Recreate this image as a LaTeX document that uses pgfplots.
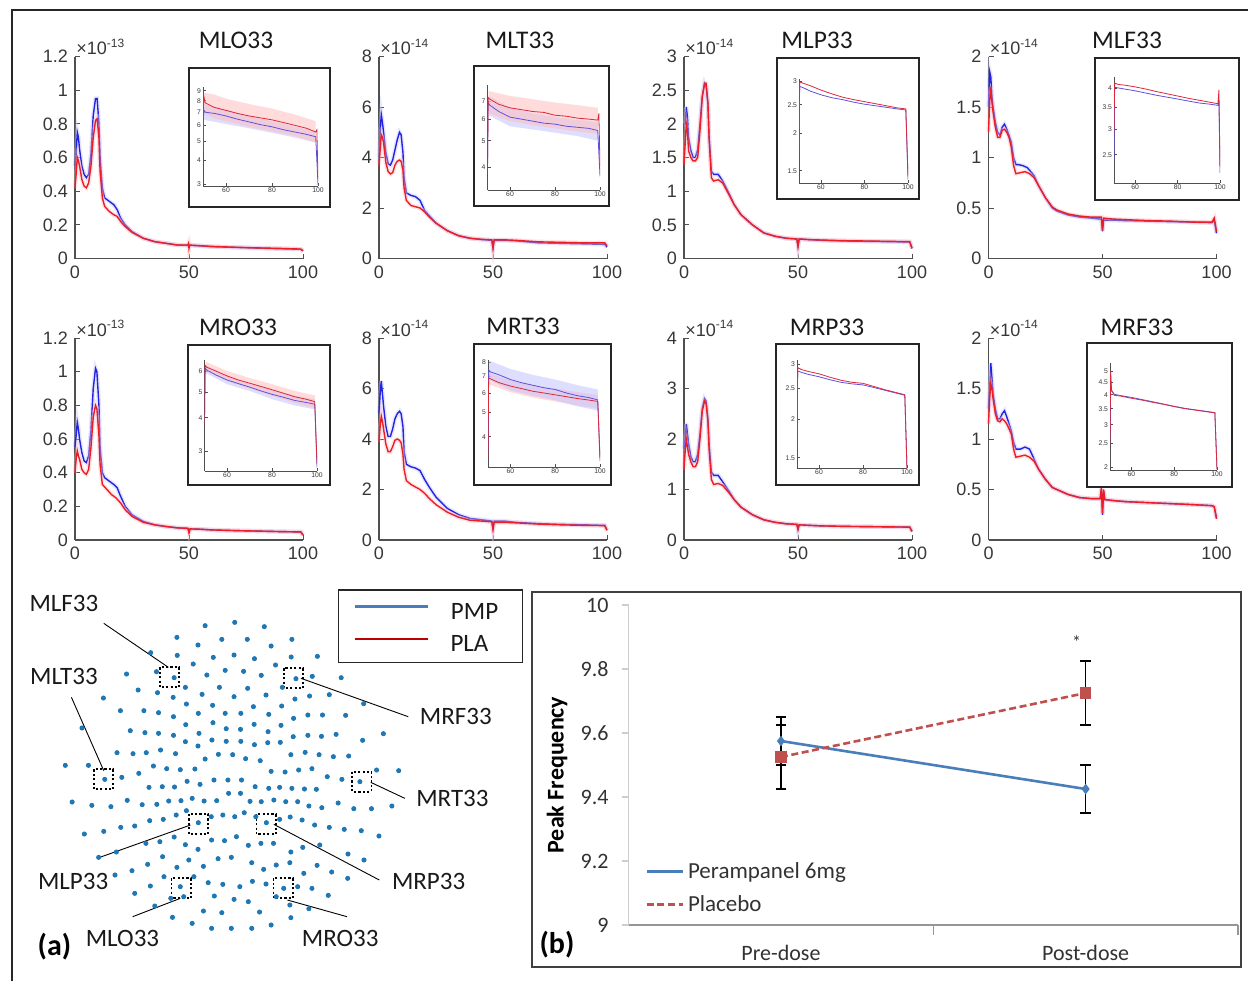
\documentclass[border=0pt]{standalone}
\usepackage{fontspec}
\setmainfont{Carlito}
\newfontfamily\mfont{Liberation Sans}
\usepackage{pgfplots}
\pgfplotsset{compat=1.18}

\definecolor{pmpb}{RGB}{35,35,225}
\definecolor{plar}{RGB}{235,30,40}
\definecolor{bandb}{RGB}{195,195,255}
\definecolor{bandr}{RGB}{255,190,190}
\definecolor{insb}{RGB}{95,80,220}
\definecolor{insr}{RGB}{220,40,60}
\definecolor{axg}{RGB}{80,80,80}
\definecolor{tkg}{RGB}{55,55,55}
\definecolor{sens}{RGB}{31,119,180}
\definecolor{xlb}{RGB}{74,126,187}
\definecolor{xlr}{RGB}{192,80,77}
\definecolor{legr}{RGB}{192,0,0}
\definecolor{xgr}{RGB}{150,150,150}
\definecolor{ygr}{RGB}{205,205,205}
\definecolor{tkb}{RGB}{50,50,50}

\pgfplotsset{
  spec/.style={anchor=south west, scale only axis, width=114pt, height=101pt,
    xmin=0, xmax=100, ymin=0, axis lines*=left, xtick={0,50,100},
    tick align=inside, major tick length=2.5pt,
    axis line style={draw=axg, line width=0.55pt}, tick style={draw=axg, line width=0.5pt},
    ticklabel style={font=\mfont\fontsize{9}{10}\selectfont, text=tkg},
    /pgf/number format/assume math mode=true, clip=false},
  ins/.style={anchor=south west, scale only axis, xmin=50, xmax=100,
    axis lines*=left, xtick={60,80,100}, log ticks with fixed point, yminorticks=false,
    tick align=inside, major tick length=1.5pt,
    axis line style={draw=axg, line width=0.35pt}, tick style={draw=axg, line width=0.3pt},
    ticklabel style={font=\mfont\fontsize{3.4}{4}\selectfont, text=tkg, inner sep=0.8pt},
    /pgf/number format/assume math mode=true},
  cb/.style={draw=pmpb, line width=0.7pt, preaction={draw=bandb, line width=2.2pt, opacity=0.4}},
  cr/.style={draw=plar, line width=0.7pt, preaction={draw=bandr, line width=2.2pt, opacity=0.4}},
  ib/.style={draw=insb, line width=0.4pt},
  ir/.style={draw=insr, line width=0.4pt},
  fb/.style={fill=bandb, draw=none, fill opacity=0.55},
  fr/.style={fill=bandr, draw=none, fill opacity=0.55},
}
\tikzset{
  ttl/.style={font=\fontsize{12.7}{15}\selectfont, text=black!90},
  mult/.style={anchor=south west, inner sep=0.5pt, font=\mfont\fontsize{9}{10}\selectfont, text=tkg},
  imult/.style={anchor=south west, inner sep=0.4pt, font=\mfont\fontsize{3.4}{4}\selectfont, text=tkg},
  frm/.style={draw=black!85, line width=0.75pt, fill=white},
  lab/.style={font=\fontsize{12.5}{15}\selectfont, text=black!90},
  sbox/.style={draw=black, line width=0.9pt, dash pattern=on 1.1pt off 1.1pt},
}

\begin{document}
\begin{tikzpicture}

% ---------- border lines (top and left) and frame of (b)
\draw[draw=black!85, line width=0.6pt] (6pt,-490.5pt) -- (6pt,-5pt) -- (624pt,-5pt);
\draw[draw=black!75, line width=0.6pt] (266pt,-296pt) rectangle (620.5pt,-483.5pt);

% ================= row 1 =================
% MLO33
\begin{axis}[spec, at={(37.5pt,-129.25pt)}, ymax=1.2, ytick={0,0.2,0.4,0.6,0.8,1,1.2}]
\addplot[cb] coordinates {(0,0.55)(0.5,0.62)(1,0.75)(1.5,0.72)(2,0.65)(3,0.55)(4,0.5)(5,0.48)(6,0.5)(7,0.62)(8,0.85)(9,0.95)(9.7,0.95)(10.5,0.8)(11,0.6)(12,0.42)(13,0.36)(15,0.34)(17,0.32)(18.5,0.29)(20,0.24)(22,0.2)(25,0.16)(30,0.12)(35,0.1)(40,0.09)(45,0.08)(49.5,0.078)(50,0.072)(50.5,0.078)(55,0.075)(60,0.07)(70,0.066)(80,0.062)(90,0.058)(99,0.055)(100,0.045)};
\addplot[cr] coordinates {(0,0.42)(0.5,0.5)(1,0.6)(1.5,0.58)(2,0.55)(3,0.47)(4,0.43)(5,0.42)(6,0.45)(7,0.55)(8,0.72)(9,0.82)(9.7,0.83)(10.5,0.72)(11,0.52)(12,0.36)(13,0.31)(15,0.28)(17,0.26)(18.5,0.25)(20,0.22)(22,0.19)(25,0.155)(30,0.12)(35,0.1)(40,0.09)(45,0.08)(49.5,0.08)(49.8,0.09)(50,0.06)(50.3,0.08)(55,0.076)(60,0.072)(70,0.067)(80,0.063)(90,0.06)(99,0.056)(100,0.046)};
\node[mult] at (rel axis cs:0,1) {×10\textsuperscript{-13}};
\end{axis}
\draw[frm] (94.5pt,-34pt) rectangle (165pt,-103.5pt);
\begin{axis}[ins, ymode=log, at={(101.5pt,-93pt)}, width=57.5pt, height=49.5pt, ymin=2.95, ymax=9.4, ytick={3,4,5,6,7,8,9}]
\addplot[fb] coordinates {(50.5,7.7)(60,7.2)(70,6.7)(80,6.3)(90,5.9)(99,5.6)(99,4.9)(90,5.2)(80,5.5)(70,5.8)(60,6.1)(50.5,6.4)};
\addplot[fr] coordinates {(50.5,8.8)(55,8.6)(60,8.2)(70,7.7)(80,7.3)(90,6.8)(99,6.3)(99,4.9)(90,5.3)(80,5.6)(70,5.9)(60,6.3)(55,6.5)(50.5,6.9)};
\addplot[ib] coordinates {(50,4.4)(50.3,7.2)(51,7.0)(55,6.9)(60,6.7)(65,6.45)(70,6.25)(75,6.05)(80,5.9)(85,5.7)(90,5.55)(95,5.4)(99,5.25)(100,3.0)};
\addplot[ir] coordinates {(50,4.3)(50.3,8.5)(51,7.8)(55,7.4)(60,7.15)(65,6.9)(70,6.7)(75,6.55)(80,6.4)(85,6.2)(90,6.0)(95,5.8)(99,5.55)(99.5,5.7)(100,3.2)};
\node[imult] at (rel axis cs:0,1) {×10\textsuperscript{-15}};
\end{axis}
\node[ttl] at (118pt,-20pt) {MLO33};

% MLT33
\begin{axis}[spec, at={(189.5pt,-129.25pt)}, ymax=8, ytick={0,2,4,6,8}]
\addplot[cb] coordinates {(0,4.0)(0.5,5.0)(1,5.7)(1.5,5.4)(2,5.0)(3,4.2)(4,3.75)(5,3.7)(6,3.9)(7,4.3)(8,4.7)(9,5.0)(9.7,4.9)(10.5,4.2)(11,3.2)(12,2.6)(14,2.5)(16,2.45)(18,2.3)(19,2.1)(20,1.9)(22,1.7)(25,1.4)(30,1.1)(35,0.9)(40,0.8)(45,0.75)(49.5,0.72)(50,0.4)(50.5,0.72)(55,0.72)(60,0.7)(70,0.62)(80,0.6)(90,0.58)(99,0.56)(100,0.45)};
\addplot[cr] coordinates {(0,3.7)(0.5,4.3)(1,4.9)(1.5,4.8)(2,4.6)(3,3.8)(4,3.45)(5,3.35)(6,3.4)(7,3.7)(8,3.85)(9,3.9)(9.7,3.85)(10.5,3.5)(11,2.8)(12,2.3)(14,2.1)(16,2.05)(18,2.0)(20,1.85)(22,1.65)(25,1.4)(30,1.1)(35,0.9)(40,0.8)(45,0.76)(49.5,0.74)(50,0.42)(50.5,0.74)(55,0.74)(60,0.72)(70,0.66)(80,0.64)(90,0.62)(99,0.62)(100,0.5)};
\node[mult] at (rel axis cs:0,1) {×10\textsuperscript{-14}};
\end{axis}
\draw[frm] (237pt,-33pt) rectangle (304.5pt,-103pt);
\begin{axis}[ins, ymode=log, at={(243.75pt,-95pt)}, width=56.25pt, height=52.5pt, ymin=3.3, ymax=8.0, ytick={4,5,6,7}]
\addplot[fb] coordinates {(50.5,7.3)(60,6.6)(70,6.3)(80,6.1)(90,5.95)(99,5.85)(99,5.0)(90,5.2)(80,5.35)(70,5.5)(60,5.65)(50.5,6.2)};
\addplot[fr] coordinates {(50.5,7.6)(60,7.3)(70,7.1)(80,6.9)(90,6.75)(99,6.6)(99,5.3)(90,5.4)(80,5.55)(70,5.7)(60,5.9)(50.5,6.3)};
\addplot[ib] coordinates {(50,3.8)(50.3,6.9)(51,6.75)(55,6.4)(60,6.1)(65,6.0)(70,5.9)(75,5.8)(80,5.75)(85,5.65)(90,5.6)(95,5.55)(99,5.45)(100,3.7)};
\addplot[ir] coordinates {(50,4.0)(50.3,7.2)(51,7.1)(55,6.8)(60,6.6)(65,6.5)(70,6.4)(75,6.35)(80,6.2)(85,6.15)(90,6.05)(95,6.0)(99,5.95)(99.5,6.3)(100,4.0)};
\node[imult] at (rel axis cs:0,1) {×10\textsuperscript{-15}};
\end{axis}
\node[ttl] at (260pt,-20pt) {MLT33};

% MLP33
\begin{axis}[spec, at={(342pt,-129.25pt)}, ymax=3, ytick={0,0.5,1,1.5,2,2.5,3}]
\addplot[cb] coordinates {(0,2.0)(0.5,2.0)(1,2.25)(1.5,2.1)(2,1.8)(3,1.6)(4,1.5)(5,1.5)(6,1.62)(7,2.0)(8,2.4)(9,2.6)(9.7,2.55)(10.5,2.3)(11,1.8)(12,1.3)(13,1.25)(15,1.25)(17,1.15)(20,0.95)(22,0.8)(25,0.65)(30,0.5)(35,0.38)(40,0.33)(45,0.3)(49.5,0.29)(50,0.18)(50.5,0.29)(55,0.28)(60,0.27)(70,0.26)(80,0.255)(90,0.25)(99,0.245)(100,0.15)};
\addplot[cr] coordinates {(0,1.4)(0.5,1.7)(1,2.0)(1.5,1.9)(2,1.6)(3,1.5)(4,1.45)(5,1.45)(6,1.5)(7,1.9)(8,2.4)(9,2.6)(9.7,2.6)(10.5,2.3)(11,1.8)(12,1.2)(13,1.15)(15,1.17)(17,1.12)(20,0.93)(22,0.8)(25,0.65)(30,0.5)(35,0.38)(40,0.33)(45,0.3)(49.5,0.29)(50,0.18)(50.5,0.29)(55,0.28)(60,0.275)(70,0.265)(80,0.26)(90,0.255)(99,0.25)(100,0.15)};
\node[mult] at (rel axis cs:0,1) {×10\textsuperscript{-14}};
\end{axis}
\draw[frm] (388.5pt,-29pt) rectangle (459.5pt,-99.5pt);
\begin{axis}[ins, ymode=log, at={(399.5pt,-91.5pt)}, width=54.5pt, height=52pt, ymin=1.364, ymax=3.05, ytick={1.5,2,2.5,3}]
\addplot[ib] coordinates {(50,1.75)(50.3,2.88)(52,2.85)(55,2.78)(60,2.7)(65,2.64)(70,2.6)(75,2.55)(80,2.51)(85,2.48)(90,2.45)(95,2.42)(99,2.4)(100,1.4)};
\addplot[ir] coordinates {(50,1.5)(50.3,2.98)(52,2.95)(55,2.9)(60,2.8)(65,2.72)(70,2.65)(75,2.6)(80,2.56)(85,2.52)(90,2.48)(95,2.44)(99,2.42)(100,1.45)};
\node[imult] at (rel axis cs:0,1) {×10\textsuperscript{-15}};
\end{axis}
\node[ttl] at (408.5pt,-20pt) {MLP33};

% MLF33
\begin{axis}[spec, at={(494.25pt,-129.25pt)}, ymax=2, ytick={0,0.5,1,1.5,2}]
\addplot[cb] coordinates {(0,1.5)(0.5,1.85)(1,1.8)(1.5,1.6)(2,1.5)(3,1.35)(4,1.25)(5,1.22)(6,1.3)(7,1.33)(8,1.28)(9,1.22)(10,1.15)(11,1.0)(12,0.93)(13,0.93)(15,0.92)(17,0.9)(20,0.82)(22,0.72)(25,0.6)(28,0.5)(30,0.47)(35,0.43)(40,0.41)(45,0.4)(49.5,0.39)(50,0.27)(50.5,0.38)(55,0.38)(60,0.375)(70,0.37)(80,0.365)(90,0.36)(98,0.355)(99,0.38)(100,0.25)};
\addplot[cr] coordinates {(0,1.25)(0.5,1.55)(1,1.7)(1.5,1.55)(2,1.45)(3,1.3)(4,1.2)(5,1.2)(6,1.27)(7,1.28)(8,1.25)(9,1.2)(10,1.1)(11,0.92)(12,0.84)(14,0.85)(16,0.86)(18,0.84)(20,0.8)(22,0.72)(25,0.6)(28,0.51)(30,0.48)(35,0.44)(40,0.42)(45,0.41)(49.5,0.41)(50,0.28)(50.5,0.4)(55,0.39)(60,0.385)(70,0.375)(80,0.37)(90,0.36)(98,0.36)(99,0.4)(100,0.27)};
\node[mult] at (rel axis cs:0,1) {×10\textsuperscript{-14}};
\end{axis}
\draw[frm] (547.5pt,-29pt) rectangle (619.5pt,-100pt);
\begin{axis}[ins, ymode=log, at={(557pt,-91.5pt)}, width=53pt, height=53pt, ymin=2.05, ymax=4.32, ytick={2.5,3,3.5,4}]
\addplot[ib] coordinates {(50,2.4)(50.3,4.02)(52,4.0)(55,3.97)(60,3.92)(65,3.86)(70,3.8)(75,3.75)(80,3.7)(85,3.65)(90,3.6)(95,3.57)(99,3.54)(99.5,3.6)(100,2.2)};
\addplot[ir] coordinates {(50,2.9)(50.3,4.14)(52,4.1)(55,4.08)(60,4.03)(65,3.97)(70,3.9)(75,3.84)(80,3.78)(85,3.72)(90,3.67)(95,3.62)(99,3.58)(99.5,3.95)(100,2.3)};
\node[imult] at (rel axis cs:0,1) {×10\textsuperscript{-15}};
\end{axis}
\node[ttl] at (563.5pt,-20pt) {MLF33};

% ================= row 2 =================
% MRO33
\begin{axis}[spec, at={(37.5pt,-270pt)}, ymax=1.2, ytick={0,0.2,0.4,0.6,0.8,1,1.2}]
\addplot[cb] coordinates {(0,0.55)(0.5,0.62)(1,0.7)(1.5,0.66)(2,0.6)(3,0.52)(4,0.47)(5,0.46)(6,0.5)(7,0.65)(8,0.9)(9,1.02)(9.6,1.0)(10.5,0.8)(11,0.55)(12,0.4)(13,0.37)(15,0.35)(17,0.33)(18.5,0.31)(20,0.26)(22,0.2)(25,0.15)(30,0.11)(35,0.09)(40,0.08)(45,0.072)(49.5,0.068)(50,0.06)(50.5,0.066)(55,0.064)(60,0.06)(70,0.056)(80,0.053)(90,0.05)(99,0.048)(100,0.03)};
\addplot[cr] coordinates {(0,0.4)(0.5,0.48)(1,0.53)(1.5,0.5)(2,0.48)(3,0.42)(4,0.4)(5,0.39)(6,0.42)(7,0.55)(8,0.73)(9,0.8)(9.6,0.78)(10.5,0.62)(11,0.45)(12,0.33)(14,0.3)(16,0.27)(18,0.25)(20,0.22)(22,0.18)(25,0.14)(30,0.105)(35,0.09)(40,0.08)(45,0.072)(49.5,0.07)(50,0.04)(50.5,0.066)(55,0.064)(60,0.06)(70,0.056)(80,0.053)(90,0.05)(99,0.048)(100,0.03)};
\node[mult] at (rel axis cs:0,1) {×10\textsuperscript{-13}};
\end{axis}
\draw[frm] (94pt,-172.5pt) rectangle (165pt,-242.5pt);
\begin{axis}[ins, ymode=log, at={(102.25pt,-235.5pt)}, width=56.25pt, height=55.5pt, ymin=2.52, ymax=6.6, ytick={3,4,5,6}]
\addplot[fb] coordinates {(50.5,6.3)(60,5.75)(70,5.4)(80,5.1)(90,4.85)(99,4.7)(99,4.3)(90,4.45)(80,4.7)(70,5.05)(60,5.35)(50.5,5.9)};
\addplot[fr] coordinates {(50.5,6.5)(60,6.0)(70,5.65)(80,5.35)(90,5.05)(99,4.85)(99,4.35)(90,4.55)(80,4.85)(70,5.15)(60,5.5)(50.5,6.0)};
\addplot[ib] coordinates {(50,3.9)(50.3,6.15)(51,6.05)(55,5.8)(60,5.55)(65,5.38)(70,5.22)(75,5.05)(80,4.9)(85,4.78)(90,4.65)(95,4.57)(99,4.5)(100,2.6)};
\addplot[ir] coordinates {(50,3.8)(50.3,6.3)(51,6.2)(55,6.0)(60,5.75)(65,5.55)(70,5.4)(75,5.25)(80,5.1)(85,4.95)(90,4.8)(95,4.7)(99,4.6)(100,2.7)};
\node[imult] at (rel axis cs:0,1) {×10\textsuperscript{-15}};
\end{axis}
\node[ttl] at (119pt,-163.5pt) {MRO33};

% MRT33
\begin{axis}[spec, at={(189.5pt,-270pt)}, ymax=8, ytick={0,2,4,6,8}]
\addplot[cb] coordinates {(0,5.0)(0.5,5.8)(1,6.3)(1.5,5.8)(2,5.3)(3,4.5)(4,4.1)(5,4.1)(6,4.4)(7,4.8)(8,5.0)(9,5.1)(9.7,5.0)(10.5,4.5)(11,3.5)(12,3.0)(14,2.9)(16,2.85)(18,2.75)(20,2.4)(22,2.1)(25,1.7)(30,1.25)(35,1.0)(40,0.85)(45,0.8)(49.5,0.75)(50,0.45)(50.5,0.75)(55,0.75)(60,0.7)(70,0.65)(80,0.62)(90,0.6)(99,0.58)(100,0.4)};
\addplot[cr] coordinates {(0,3.9)(0.5,4.5)(1,4.9)(1.5,4.7)(2,4.4)(3,3.8)(4,3.5)(5,3.5)(6,3.7)(7,3.95)(8,4.0)(9,3.95)(9.7,3.85)(10.5,3.4)(11,2.8)(12,2.35)(14,2.2)(16,2.1)(18,2.0)(20,1.85)(22,1.65)(25,1.4)(30,1.1)(35,0.9)(40,0.78)(45,0.75)(49.5,0.72)(50,0.42)(50.5,0.7)(55,0.7)(60,0.68)(70,0.63)(80,0.6)(90,0.58)(99,0.57)(100,0.38)};
\node[mult] at (rel axis cs:0,1) {×10\textsuperscript{-14}};
\end{axis}
\draw[frm] (237pt,-172pt) rectangle (305.5pt,-242.5pt);
\begin{axis}[ins, ymode=log, at={(244pt,-233.5pt)}, width=56pt, height=53.5pt, ymin=3.02, ymax=8.15, ytick={4,5,6,7,8}]
\addplot[fr] coordinates {(50.5,7.2)(60,6.75)(70,6.45)(80,6.25)(90,6.05)(99,5.9)(99,5.2)(90,5.35)(80,5.55)(70,5.75)(60,6.05)(50.5,6.5)};
\addplot[fb] coordinates {(50.5,8.1)(60,7.5)(70,7.1)(80,6.8)(90,6.45)(99,6.2)(99,5.1)(90,5.3)(80,5.6)(70,5.85)(60,6.15)(50.5,6.8)};
\addplot[ib] coordinates {(50,3.5)(50.3,7.45)(51,7.3)(55,7.1)(60,6.8)(65,6.6)(70,6.45)(75,6.3)(80,6.2)(85,6.0)(90,5.85)(95,5.75)(99,5.63)(100,3.3)};
\addplot[ir] coordinates {(50,3.3)(50.3,6.9)(51,6.85)(55,6.6)(60,6.4)(65,6.25)(70,6.1)(75,6.0)(80,5.9)(85,5.8)(90,5.7)(95,5.62)(99,5.55)(100,3.2)};
\node[imult] at (rel axis cs:0,1) {×10\textsuperscript{-15}};
\end{axis}
\node[ttl] at (261.5pt,-163pt) {MRT33};

% MRP33
\begin{axis}[spec, at={(342pt,-270pt)}, ymax=4, ytick={0,1,2,3,4}]
\addplot[cb] coordinates {(0,1.8)(0.5,2.0)(1,2.3)(1.5,2.1)(2,1.9)(3,1.65)(4,1.55)(5,1.55)(6,1.7)(7,2.1)(8,2.6)(9,2.8)(9.7,2.75)(10.5,2.4)(11,1.9)(12,1.35)(13,1.28)(15,1.28)(17,1.15)(20,0.95)(22,0.8)(25,0.65)(30,0.5)(35,0.4)(40,0.35)(45,0.32)(49.5,0.31)(50,0.2)(50.5,0.3)(55,0.29)(60,0.28)(70,0.27)(80,0.265)(90,0.26)(99,0.255)(100,0.17)};
\addplot[cr] coordinates {(0,1.4)(0.5,1.75)(1,2.0)(1.5,1.85)(2,1.7)(3,1.55)(4,1.45)(5,1.45)(6,1.55)(7,2.0)(8,2.55)(9,2.75)(9.7,2.7)(10.5,2.35)(11,1.8)(12,1.2)(13,1.1)(15,1.12)(17,1.08)(20,0.92)(22,0.8)(25,0.65)(30,0.5)(35,0.4)(40,0.35)(45,0.32)(49.5,0.31)(50,0.22)(50.5,0.3)(55,0.29)(60,0.28)(70,0.27)(80,0.265)(90,0.26)(99,0.255)(100,0.17)};
\node[mult] at (rel axis cs:0,1) {×10\textsuperscript{-14}};
\end{axis}
\draw[frm] (388pt,-172pt) rectangle (459.5pt,-242.5pt);
\begin{axis}[ins, ymode=log, at={(398.5pt,-234pt)}, width=55pt, height=54pt, ymin=1.39, ymax=3.09, ytick={1.5,2,2.5,3}]
\addplot[ib] coordinates {(50,1.7)(50.3,2.85)(52,2.82)(55,2.78)(60,2.73)(65,2.67)(70,2.62)(75,2.59)(80,2.57)(85,2.52)(90,2.47)(95,2.42)(99,2.38)(100,1.38)};
\addplot[ir] coordinates {(50,1.5)(50.3,2.92)(52,2.88)(55,2.84)(60,2.79)(65,2.72)(70,2.66)(75,2.62)(80,2.6)(85,2.54)(90,2.48)(95,2.43)(99,2.39)(100,1.38)};
\node[imult] at (rel axis cs:0,1) {×10\textsuperscript{-15}};
\end{axis}
\node[ttl] at (413.5pt,-163.5pt) {MRP33};

% MRF33
\begin{axis}[spec, at={(494.25pt,-270pt)}, ymax=2, ytick={0,0.5,1,1.5,2}]
\addplot[cb] coordinates {(0,1.3)(0.5,1.5)(1,1.75)(1.5,1.6)(2,1.45)(3,1.3)(4,1.2)(5,1.2)(6,1.25)(7,1.28)(8,1.22)(9,1.15)(10,1.08)(11,0.97)(12,0.9)(14,0.9)(16,0.92)(18,0.9)(20,0.8)(22,0.7)(25,0.6)(28,0.52)(30,0.5)(35,0.45)(40,0.42)(45,0.41)(49,0.41)(49.5,0.5)(50,0.25)(50.5,0.48)(51,0.4)(55,0.39)(60,0.38)(70,0.37)(80,0.36)(90,0.35)(98,0.34)(99,0.33)(100,0.22)};
\addplot[cr] coordinates {(0,1.15)(0.5,1.4)(1,1.55)(1.5,1.5)(2,1.4)(3,1.25)(4,1.18)(5,1.17)(6,1.2)(7,1.18)(8,1.15)(9,1.1)(10,1.05)(11,0.9)(12,0.82)(14,0.83)(16,0.84)(18,0.82)(20,0.78)(22,0.7)(25,0.6)(28,0.52)(30,0.5)(35,0.45)(40,0.42)(45,0.41)(49,0.41)(49.5,0.52)(50,0.26)(50.5,0.5)(51,0.4)(55,0.39)(60,0.38)(70,0.37)(80,0.36)(90,0.35)(98,0.34)(99,0.33)(100,0.21)};
\node[mult] at (rel axis cs:0,1) {×10\textsuperscript{-14}};
\end{axis}
\draw[frm] (543.5pt,-171.5pt) rectangle (616pt,-243.5pt);
\begin{axis}[ins, ymode=log, at={(555pt,-235pt)}, width=53.5pt, height=53.5pt, ymin=1.94, ymax=5.43, ytick={2,2.5,3,3.5,4,4.5,5}]
\addplot[ib] coordinates {(50,2.6)(50.3,4.7)(50.7,4.15)(52,4.02)(55,3.97)(60,3.9)(65,3.82)(70,3.74)(75,3.66)(80,3.58)(85,3.51)(90,3.46)(95,3.41)(99,3.37)(100,1.95)};
\addplot[ir] coordinates {(50,2.5)(50.3,5.0)(50.7,4.2)(52,3.98)(55,3.95)(60,3.87)(65,3.8)(70,3.72)(75,3.65)(80,3.57)(85,3.5)(90,3.45)(95,3.4)(99,3.36)(100,1.95)};
\node[imult] at (rel axis cs:0,1) {×10\textsuperscript{-15}};
\end{axis}
\node[ttl] at (568.5pt,-163.5pt) {MRF33};

% ================= (a) sensor layout =================
\begin{axis}[at={(0pt,-490pt)}, anchor=south west, scale only axis, width=265pt, height=200pt,
  xmin=0, xmax=1558, ymin=0, ymax=1200, y dir=reverse, hide axis, clip=false]
\addplot[only marks, mark=*, mark size=1.05pt, color=sens] coordinates {
(603,137)(690,127)(777,140)
(520,172)(652,178)(727,178)(858,178)(582,195)(797,198)
(443,218)(521,226)(627,232)(688,225)(748,236)(856,231)(933,229)(568,252)(810,255)
(372,282)(460,275)(512,293)(608,285)(662,271)(716,274)(768,286)(870,296)(918,289)(1003,293)
(406,330)(463,338)(509,352)(545,322)(594,343)(645,322)(688,350)(728,325)(782,345)(830,322)(867,357)(910,348)(968,344)
(304,354)(354,392)(423,392)(466,398)(510,410)(548,372)(583,400)(625,376)(662,400)(708,400)(745,380)(790,403)(828,378)(863,415)(905,405)(948,405)(1016,406)(1069,371)
(241,444)(383,452)(426,458)(466,460)(510,466)(546,434)(585,460)(626,428)(665,446)(707,448)(747,433)(788,455)(826,436)(862,470)(905,466)(945,469)(988,463)(1066,481)(1127,461)
(344,518)(391,521)(430,518)(472,510)(516,521)(545,485)(582,498)(623,480)(665,484)(708,484)(748,494)(787,488)(824,487)(855,524)(897,517)(938,524)(980,530)(1025,528)
(192,556)(260,556)(308,598)(358,592)(408,580)(451,558)(490,566)(530,569)(573,567)(603,537)(642,523)(684,524)(722,536)(765,542)(797,574)(838,576)(878,570)(917,566)(962,590)(1005,598)(1058,605)(1107,570)(1172,572)
(438,622)(477,620)(513,621)(550,604)(588,613)(629,600)(670,600)(710,600)(750,620)(790,625)(822,622)(858,625)(895,627)(930,628)
(212,666)(270,676)(326,680)(374,661)(418,674)(461,673)(496,663)(532,662)(565,655)(600,663)(637,662)(672,640)(707,640)(735,664)(768,665)(805,660)(840,665)(875,665)(908,678)(946,683)(994,669)(1040,686)(1092,686)(1152,678)
(248,762)(305,754)(355,742)(396,738)(440,722)(480,718)(518,705)(548,692)(583,728)(621,710)(655,705)(690,710)(718,698)(752,710)(783,728)(822,718)(853,711)(888,720)(925,735)(968,742)(1012,748)(1062,752)(1114,768)
(290,832)(342,816)(429,790)(470,785)(512,771)(545,794)(582,808)(622,780)(660,782)(695,770)(730,796)(767,790)(804,790)(855,816)(890,802)(940,795)(1023,822)(1070,840)
(338,885)(388,872)(434,853)(478,830)(520,862)(555,840)(598,859)(641,836)(680,832)(740,848)(775,868)(812,855)(852,848)(893,880)(932,856)(975,876)(1022,895)
(396,940)(442,918)(482,890)(530,920)(570,890)(612,908)(655,913)(705,920)(742,904)(782,912)(834,925)(875,920)(917,925)(965,946)
(455,978)(502,955)(540,950)(598,993)(630,948)(652,998)(688,958)(730,965)(763,996)(812,950)(852,975)(908,986)
(507,1012)(565,1030)(622,1045)(680,1045)(740,1045)(797,1035)(855,1013)};
% leader lines
\addplot[black, line width=0.45pt] coordinates {(305,130)(495,262)};
\addplot[black, line width=0.45pt] coordinates {(210,352)(305,572)};
\addplot[black, line width=0.45pt] coordinates {(885,295)(1200,410)};
\addplot[black, line width=0.45pt] coordinates {(1090,607)(1190,655)};
\addplot[black, line width=0.45pt] coordinates {(285,835)(560,735)};
\addplot[black, line width=0.45pt] coordinates {(805,733)(1115,900)};
\addplot[black, line width=0.45pt] coordinates {(390,1010)(530,955)};
\addplot[black, line width=0.45pt] coordinates {(845,960)(1020,1010)};
% dotted boxes
\draw[sbox] (axis cs:470,262) rectangle (axis cs:527,322);
\draw[sbox] (axis cs:834,265) rectangle (axis cs:891,325);
\draw[sbox] (axis cs:276,568) rectangle (axis cs:333,628);
\draw[sbox] (axis cs:1035,575) rectangle (axis cs:1092,635);
\draw[sbox] (axis cs:555,702) rectangle (axis cs:612,762);
\draw[sbox] (axis cs:754,703) rectangle (axis cs:811,763);
\draw[sbox] (axis cs:504,895) rectangle (axis cs:561,955);
\draw[sbox] (axis cs:804,895) rectangle (axis cs:861,955);
% labels
\node[lab] at (axis cs:188,70) {MLF33};
\node[lab] at (axis cs:188,290) {MLT33};
\node[lab] at (axis cs:1340,410) {MRF33};
\node[lab] at (axis cs:1330,655) {MRT33};
\node[lab] at (axis cs:215,905) {MLP33};
\node[lab] at (axis cs:1260,905) {MRP33};
\node[lab] at (axis cs:360,1075) {MLO33};
\node[lab] at (axis cs:1000,1075) {MRO33};
\node[font=\bfseries\fontsize{15}{18}\selectfont, text=black] at (axis cs:160,1100) {(a)};
% legend box
\draw[draw=black!85, line width=0.6pt, fill=white] (axis cs:995,30) rectangle (axis cs:1537,248);
\addplot[xlb, line width=1.3pt] coordinates {(1045,80)(1258,80)};
\addplot[legr, line width=1.3pt] coordinates {(1045,177)(1258,177)};
\node[lab] at (axis cs:1395,95) {PMP};
\node[lab] at (axis cs:1380,190) {PLA};
\end{axis}

% ================= (b) peak frequency =================
\begin{axis}[at={(314.3pt,-462.5pt)}, anchor=south west, scale only axis, width=304.7pt, height=160pt,
  xmin=0.5, xmax=2.5, ymin=9, ymax=10,
  axis x line*=bottom, axis y line*=left,
  x axis line style={draw=xgr, line width=0.6pt}, y axis line style={draw=ygr, line width=0.6pt},
  tick align=outside,
  xtick={1,2}, xticklabels={Pre-dose,Post-dose}, x tick style={draw=none},
  extra x ticks={1.5,2.5}, extra x tick labels={},
  extra x tick style={x tick style={draw=xgr, line width=0.6pt}, major tick length=5pt},
  ytick={9,9.2,9.4,9.6,9.8,10}, y tick style={draw=ygr, line width=0.6pt}, major tick length=3.5pt,
  ticklabel style={font=\fontsize{11}{13}\selectfont, text=tkb},
  yticklabel style={xshift=-3pt}, xticklabel style={yshift=-3pt},
  /pgf/number format/assume math mode=true,
  legend style={at={(0.027,0.115)}, anchor=west, draw=none, fill=none, inner sep=0pt,
    row sep=3pt, font=\fontsize{11.5}{13}\selectfont, text=tkb, cells={anchor=west}},
  legend image code/.code={\draw[#1] (0pt,0pt) -- (18pt,0pt);},
  clip=false]
\addplot[draw=none, forget plot, error bars/.cd, y dir=both, y explicit,
  error bar style={draw=black, solid, line width=0.7pt},
  error mark options={rotate=90, draw=black, solid, mark size=2.7pt, line width=0.7pt}]
  coordinates {(1,9.575) +- (0,0.075) (2,9.425) +- (0,0.075)};
\addplot[draw=none, forget plot, error bars/.cd, y dir=both, y explicit,
  error bar style={draw=black, solid, line width=0.7pt},
  error mark options={rotate=90, draw=black, solid, mark size=2.7pt, line width=0.7pt}]
  coordinates {(1,9.525) +- (0,0.1) (2,9.725) +- (0,0.1)};
\addplot[xlb, line width=1.3pt, mark=diamond*, mark size=1.6pt] coordinates {(1,9.575)(2,9.425)};
\addplot[xlr, line width=1.3pt, dash pattern=on 3.5pt off 1.8pt, mark=square*, mark size=2.2pt, mark options={solid}] coordinates {(1,9.525)(2,9.725)};
\legend{Perampanel 6mg, Placebo}
\node[font=\fontsize{9}{10}\selectfont, text=tkb] at (axis cs:1.97,9.885) {*};
\end{axis}
\node[rotate=90, font=\bfseries\fontsize{12}{14}\selectfont, text=black] at (278.5pt,-387.5pt) {Peak Frequency};
\node[font=\bfseries\fontsize{15}{18}\selectfont, text=black] at (278.5pt,-472.5pt) {(b)};

\pgfresetboundingbox
\useasboundingbox (0pt,0pt) rectangle (624pt,-490.5pt);
\end{tikzpicture}
\end{document}
